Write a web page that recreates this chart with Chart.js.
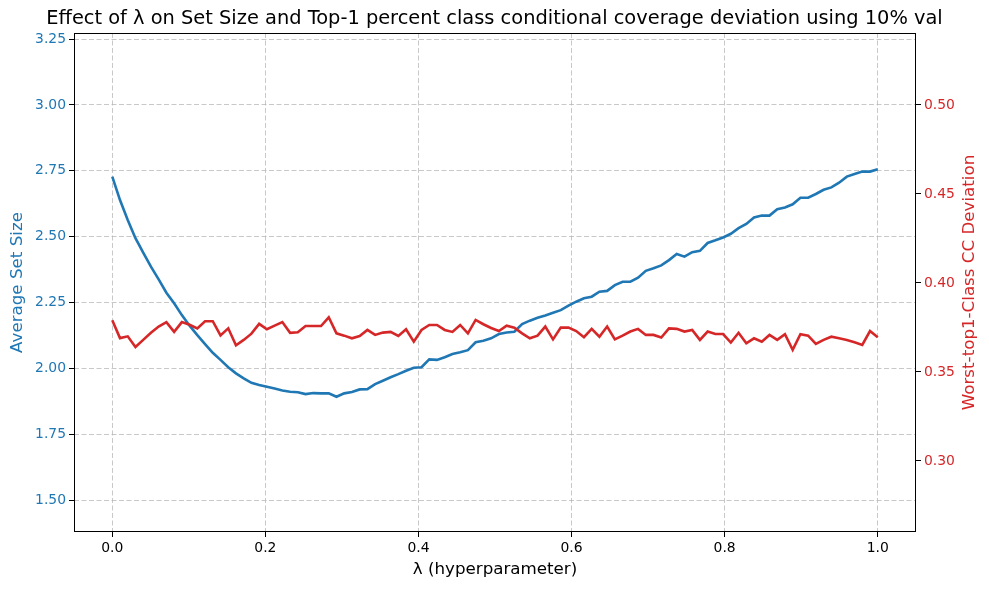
<!DOCTYPE html>
<html>
<head>
<meta charset="utf-8">
<script src="https://cdn.jsdelivr.net/npm/chart.js@4.4.1/dist/chart.umd.min.js"></script>
<style>
  html, body { margin: 0; padding: 0; background: #fff; }
  #wrap { width: 989px; height: 590px; position: relative; }
</style>
</head>
<body>
<div id="wrap"><canvas id="c" width="989" height="590"></canvas></div>
<script>
// ---- data ----
const lambdas = [0,0.0101,0.0202,0.0303,0.0404,0.0505,0.0606,0.0707,0.0808,0.0909,
  0.1010,0.1111,0.1212,0.1313,0.1414,0.1515,0.1616,0.1717,0.1818,0.1919,
  0.2020,0.2121,0.2222,0.2323,0.2424,0.2525,0.2626,0.2727,0.2828,0.2929,
  0.3030,0.3131,0.3232,0.3333,0.3434,0.3535,0.3636,0.3737,0.3838,0.3939,
  0.4040,0.4141,0.4242,0.4343,0.4444,0.4545,0.4646,0.4747,0.4848,0.4949,
  0.5051,0.5152,0.5253,0.5354,0.5455,0.5556,0.5657,0.5758,0.5859,0.5960,
  0.6061,0.6162,0.6263,0.6364,0.6465,0.6566,0.6667,0.6768,0.6869,0.6970,
  0.7071,0.7172,0.7273,0.7374,0.7475,0.7576,0.7677,0.7778,0.7879,0.7980,
  0.8081,0.8182,0.8283,0.8384,0.8485,0.8586,0.8687,0.8788,0.8889,0.8990,
  0.9091,0.9192,0.9293,0.9394,0.9495,0.9596,0.9697,0.9798,0.9899,1];

const avgSetSize = [2.728,2.639,2.563,2.494,2.439,2.386,2.338,2.287,2.247,2.202,
  2.162,2.126,2.092,2.059,2.032,2.004,1.981,1.962,1.945,1.937,
  1.930,1.923,1.916,1.911,1.909,1.902,1.906,1.905,1.905,1.892,
  1.905,1.910,1.920,1.921,1.940,1.953,1.966,1.978,1.991,2.002,
  2.004,2.034,2.032,2.042,2.054,2.061,2.069,2.099,2.105,2.114,
  2.130,2.136,2.139,2.168,2.181,2.192,2.201,2.211,2.221,2.238,
  2.253,2.266,2.272,2.291,2.294,2.316,2.329,2.329,2.344,2.370,
  2.380,2.391,2.411,2.434,2.424,2.441,2.446,2.476,2.486,2.497,
  2.511,2.532,2.548,2.573,2.580,2.580,2.604,2.611,2.623,2.648,
  2.648,2.662,2.678,2.687,2.705,2.728,2.738,2.747,2.747,2.756];

const ccDeviation = [0.3790,0.3690,0.3700,0.3640,0.3680,0.3720,0.3755,0.3780,0.3725,0.3780,
  0.3765,0.3745,0.3785,0.3785,0.3705,0.3745,0.3650,0.3680,0.3715,0.3770,
  0.3740,0.3760,0.3780,0.3720,0.3723,0.3758,0.3758,0.3758,0.3807,0.3717,
  0.3704,0.3689,0.3702,0.3736,0.3708,0.3721,0.3725,0.3702,0.3740,0.3670,
  0.3736,0.3764,0.3764,0.3736,0.3725,0.3764,0.3717,0.3792,0.3768,0.3747,
  0.3730,0.3760,0.3749,0.3717,0.3689,0.3704,0.3755,0.3683,0.3749,0.3749,
  0.3730,0.3695,0.3742,0.3698,0.3755,0.3683,0.3704,0.3727,0.3742,0.3708,
  0.3708,0.3693,0.3745,0.3742,0.3727,0.3736,0.3680,0.3727,0.3713,0.3713,
  0.3665,0.3720,0.3661,0.3689,0.3670,0.3708,0.3680,0.3712,0.3624,0.3712,
  0.3704,0.3657,0.3680,0.3698,0.3689,0.3680,0.3667,0.3652,0.3730,0.3695];

const xTicks = [0.0, 0.2, 0.4, 0.6, 0.8, 1.0];
const leftTicks = [1.50, 1.75, 2.00, 2.25, 2.50, 2.75, 3.00, 3.25];
const rightTicks = [0.30, 0.35, 0.40, 0.45, 0.50];

const titleText = 'Effect of λ on Set Size and Top-1 percent class conditional coverage deviation using 10% val';
const xTitle = 'λ (hyperparameter)';
const yLeftTitle = 'Average Set Size';
const yRightTitle = 'Worst-top1-Class CC Deviation';

// ---- styles ----
const BLUE = '#1f77b4';
const RED = '#d62728';
const FONT = "'DejaVu Sans', 'Liberation Sans', sans-serif";
const GRID = 'rgba(176,176,176,0.7)';

const frame = {
  id: 'frame',
  afterDraw(chart) {
    const a = chart.chartArea, ctx = chart.ctx;
    ctx.save();
    ctx.strokeStyle = '#000';
    ctx.lineWidth = 1;
    ctx.setLineDash([]);
    ctx.strokeRect(Math.round(a.left) + 0.5, Math.round(a.top) + 0.5,
                   Math.round(a.right - a.left) - 1, Math.round(a.bottom - a.top) - 1);
    // right axis title, reading bottom-to-top like matplotlib
    ctx.fillStyle = RED;
    ctx.font = '16.7px ' + FONT;
    ctx.textAlign = 'center';
    ctx.textBaseline = 'middle';
    ctx.translate(970, (a.top + a.bottom) / 2);
    ctx.rotate(-Math.PI / 2);
    ctx.fillText(yRightTitle, 0, 0);
    ctx.restore();
  }
};

const ticksFrom = (arr) => function (scale) { scale.ticks = arr.map(v => ({ value: v })); };

new Chart(document.getElementById('c'), {
  type: 'line',
  data: {
    datasets: [
      {
        label: yLeftTitle,
        data: lambdas.map((x, i) => ({ x: x, y: avgSetSize[i] })),
        borderColor: BLUE, backgroundColor: BLUE,
        borderWidth: 2.6, pointRadius: 0, tension: 0, yAxisID: 'y', order: 2
      },
      {
        label: yRightTitle,
        data: lambdas.map((x, i) => ({ x: x, y: ccDeviation[i] })),
        borderColor: RED, backgroundColor: RED,
        borderWidth: 2.6, pointRadius: 0, tension: 0, yAxisID: 'y1', order: 1
      }
    ]
  },
  options: {
    responsive: false,
    animation: false,
    devicePixelRatio: 1,
    layout: { padding: 0 },
    plugins: {
      legend: { display: false },
      tooltip: { enabled: false },
      title: {
        display: true, text: titleText, color: '#000',
        font: { family: FONT, size: 19.4, weight: 'normal', lineHeight: 1.2 },
        padding: { top: 7.4, bottom: 2.3 }
      }
    },
    scales: {
      x: {
        type: 'linear', min: -0.05, max: 1.05,
        afterBuildTicks: ticksFrom(xTicks),
        afterFit(s) { s.height = 58; },
        ticks: { color: '#000', font: { family: FONT, size: 13.9 }, padding: 3,
                 maxRotation: 0, autoSkip: false, callback: v => v.toFixed(1) },
        grid: { color: GRID, lineWidth: 1, drawTicks: true, tickLength: 5,
                tickColor: '#000', tickWidth: 1 },
        border: { display: false, dash: [5, 2.5] },
        title: { display: true, text: xTitle, color: '#000',
                 font: { family: FONT, size: 16.7, lineHeight: 1.2 }, padding: { top: 0, bottom: 10 } }
      },
      y: {
        type: 'linear', position: 'left', min: 1.3785, max: 3.2734,
        afterBuildTicks: ticksFrom(leftTicks),
        afterFit(s) { s.width = 74; },
        ticks: { color: BLUE, font: { family: FONT, size: 13.9 }, padding: 3,
                 autoSkip: false, callback: v => v.toFixed(2) },
        grid: { color: GRID, lineWidth: 1, drawTicks: true, tickLength: 5,
                tickColor: '#000', tickWidth: 1 },
        border: { display: false, dash: [5, 2.5] },
        title: { display: true, text: yLeftTitle, color: BLUE,
                 font: { family: FONT, size: 16.7, lineHeight: 1.2 }, padding: { top: 8, bottom: 0 } }
      },
      y1: {
        type: 'linear', position: 'right', min: 0.2601, max: 0.5404,
        afterBuildTicks: ticksFrom(rightTicks),
        afterFit(s) { s.width = 73; },
        ticks: { color: RED, font: { family: FONT, size: 13.9 }, padding: 3,
                 autoSkip: false, callback: v => v.toFixed(2) },
        grid: { drawOnChartArea: false, drawTicks: true, tickLength: 5,
                tickColor: '#000', tickWidth: 1, color: GRID },
        border: { display: false },
        title: { display: false, text: yRightTitle }
      }
    }
  },
  plugins: [frame]
});
</script>
</body>
</html>
